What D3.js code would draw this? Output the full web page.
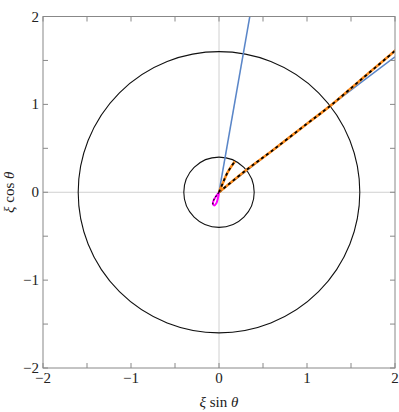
<!DOCTYPE html>
<html>
<head>
<meta charset="utf-8">
<script src="https://cdn.jsdelivr.net/npm/d3@7"></script>
<style>
  body { margin: 0; background: #fff; }
</style>
</head>
<body>
<svg id="chart" width="399" height="412"></svg>
<script>
// data in (xi sin theta, xi cos theta)
const majorTicks = [-2, -1, 0, 1, 2];
const minorTicks = [-1.5, -0.5, 0.5, 1.5];
const circleRadii = [0.4, 1.6];

const blueSteep = [[0, 0], [0.35, 2.0]];
const blueMain = [[0, 0], [1.0, 0.78], [1.6, 1.24], [2.0, 1.54]];
const orangeMain = [[0, 0], [0.3, 0.245], [0.6, 0.47], [1.0, 0.78], [1.26, 0.98], [1.6, 1.27], [2.0, 1.61], [2.1, 1.7]];
const orangeUpper = [[0, 0], [0.05, 0.12], [0.1, 0.23], [0.18, 0.35]];
const magentaLoop = [[0, 0], [-0.03, -0.04], [-0.06, -0.09], [-0.07, -0.13], [-0.055, -0.15],
                     [-0.03, -0.125], [-0.01, -0.06], [0, 0]];

const FONT = "'Liberation Serif', 'DejaVu Serif', serif";
const margin = { top: 16.5, right: 4, bottom: 44, left: 43 };
const svgWidth = 399, svgHeight = 412;
const width = svgWidth - margin.left - margin.right;
const height = svgHeight - margin.top - margin.bottom;

const svg = d3.select("#chart");

svg.append("defs").append("clipPath").attr("id", "clip")
    .append("rect").attr("width", width).attr("height", height);

const g = svg.append("g").attr("transform", `translate(${margin.left},${margin.top})`);

const x = d3.scaleLinear().domain([-2, 2]).range([0, width]);
const y = d3.scaleLinear().domain([-2, 2]).range([height, 0]);

const fmt = d => d < 0 ? "\u2212" + Math.abs(d) : String(d);

// zero lines
g.append("line").attr("x1", x(0)).attr("x2", x(0)).attr("y1", 0).attr("y2", height)
    .attr("stroke", "#d0d0d0").attr("stroke-width", 1);
g.append("line").attr("x1", 0).attr("x2", width).attr("y1", y(0)).attr("y2", y(0))
    .attr("stroke", "#d0d0d0").attr("stroke-width", 1);

const plot = g.append("g").attr("clip-path", "url(#clip)");

// circles
circleRadii.forEach(r => {
    plot.append("ellipse")
        .attr("cx", x(0)).attr("cy", y(0))
        .attr("rx", x(r) - x(0)).attr("ry", y(0) - y(r))
        .attr("fill", "none").attr("stroke", "#111").attr("stroke-width", 1.1);
});

const line = d3.line().x(d => x(d[0])).y(d => y(d[1])).curve(d3.curveMonotoneX);
const lineC = d3.line().x(d => x(d[0])).y(d => y(d[1])).curve(d3.curveCatmullRom);

plot.append("path").datum(blueSteep).attr("d", line)
    .attr("fill", "none").attr("stroke", "#5a86c8").attr("stroke-width", 1.5);
plot.append("path").datum(blueMain).attr("d", line)
    .attr("fill", "none").attr("stroke", "#5a86c8").attr("stroke-width", 1.5);

[orangeMain, orangeUpper].forEach(data => {
    plot.append("path").datum(data).attr("d", lineC)
        .attr("fill", "none").attr("stroke", "#ff8c1a").attr("stroke-width", 2.6);
    plot.append("path").datum(data).attr("d", lineC)
        .attr("fill", "none").attr("stroke", "#000").attr("stroke-width", 1.8)
        .attr("stroke-dasharray", "3,3");
});

plot.append("path").datum(magentaLoop).attr("d", lineC)
    .attr("fill", "none").attr("stroke", "#ff00ff").attr("stroke-width", 2);
plot.append("path").datum(magentaLoop.slice(0, 5)).attr("d", lineC)
    .attr("fill", "none").attr("stroke", "#000").attr("stroke-width", 1.1)
    .attr("stroke-dasharray", "2,2");

// frame
g.append("rect").attr("width", width).attr("height", height)
    .attr("fill", "none").attr("stroke", "#888").attr("stroke-width", 1);

// ticks (inward, all sides)
const allTicks = majorTicks.concat(minorTicks);
const tickLen = 5;
const tg = g.append("g").attr("stroke", "#888").attr("stroke-width", 1);
allTicks.forEach(t => {
    tg.append("line").attr("x1", x(t)).attr("x2", x(t)).attr("y1", height).attr("y2", height - tickLen);
    tg.append("line").attr("x1", x(t)).attr("x2", x(t)).attr("y1", 0).attr("y2", tickLen);
    tg.append("line").attr("x1", 0).attr("x2", tickLen).attr("y1", y(t)).attr("y2", y(t));
    tg.append("line").attr("x1", width).attr("x2", width - tickLen).attr("y1", y(t)).attr("y2", y(t));
});

// tick labels
majorTicks.forEach(t => {
    g.append("text").attr("x", x(t)).attr("y", height + 15)
        .attr("text-anchor", "middle").attr("font-size", 15).attr("font-family", FONT).attr("fill", "#222")
        .text(fmt(t));
    g.append("text").attr("x", -4).attr("y", y(t) + 5)
        .attr("text-anchor", "end").attr("font-size", 15).attr("font-family", FONT).attr("fill", "#222")
        .text(fmt(t));
});

// axis labels
const xl = svg.append("text").attr("x", margin.left + x(0)).attr("y", 407)
    .attr("text-anchor", "middle").attr("font-size", 15).attr("font-family", FONT).attr("fill", "#222");
xl.append("tspan").attr("font-style", "italic").text("\u03be");
xl.append("tspan").text(" sin ");
xl.append("tspan").attr("font-style", "italic").text("\u03b8");

const yl = svg.append("text")
    .attr("transform", `translate(14,${margin.top + y(0)}) rotate(-90)`)
    .attr("text-anchor", "middle").attr("font-size", 15).attr("font-family", FONT).attr("fill", "#222");
yl.append("tspan").attr("font-style", "italic").text("\u03be");
yl.append("tspan").text(" cos ");
yl.append("tspan").attr("font-style", "italic").text("\u03b8");
</script>
</body>
</html>
